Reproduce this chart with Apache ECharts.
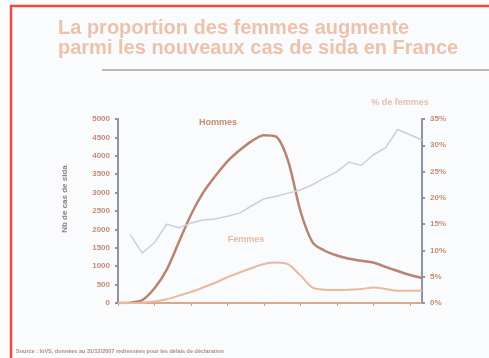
<!DOCTYPE html>
<html>
<head>
<meta charset="utf-8">
<script src="https://cdn.jsdelivr.net/npm/echarts@6/dist/echarts.min.js"></script>
<style>
html,body{margin:0;padding:0;background:#fafbfd;}
#main{width:489px;height:358px;filter:blur(0.6px);}
</style>
</head>
<body>
<div id="main"></div>
<script>
// annees 1982 -> 2007
var annees = ['1982','1983','1984','1985','1986','1987','1988','1989','1990','1991','1992','1993','1994',
    '1995','1996','1997','1998','1999','2000','2001','2002','2003','2004','2005','2006','2007'];
var hommes = [0,10,80,400,900,1650,2400,3000,3450,3850,4150,4400,4560,
    4520,3850,2500,1650,1420,1290,1200,1150,1100,980,870,760,680];
var femmes = [0,0,10,40,100,200,300,420,550,700,830,950,1060,
    1100,1050,750,420,360,350,360,380,420,380,330,330,340];
var pctFemmes = [null,13,9.5,11.5,15,14.3,15.2,15.8,16,16.5,17.1,18.5,19.8,
    20.3,20.9,21.5,22.5,23.8,25,26.8,26.2,28.2,29.5,33,32,31];

var chart = echarts.init(document.getElementById("main"));

var axeCouleur = "#8d93a0";
var labelCouleur = "#c58c70";

var option = {
    backgroundColor: "#fafbfd",
    animation: false,
    grid: {
        left: 118,
        right: 67,
        top: 119,
        bottom: 55
    },
    xAxis: {
        type: 'category',
        boundaryGap: false,
        data: annees,
        axisLine: {lineStyle: {color: "#d9a98e", width: 2}},
        axisTick: {show: true, length: 3, lineStyle: {color: "#c9a08a"}},
        axisLabel: {show: false},
        splitLine: {show: false}
    },
    yAxis: [
        {
            type: 'value',
            min: 0,
            max: 5000,
            interval: 500,
            axisLine: {show: true, lineStyle: {color: axeCouleur, width: 2}},
            axisTick: {show: true, length: 3, lineStyle: {color: axeCouleur, width: 2}},
            axisLabel: {
                color: labelCouleur,
                fontSize: 8,
                fontWeight: 'bold',
                fontFamily: 'Liberation Sans',
                margin: 8,
                formatter: function (v) { return String(v); }
            },
            splitLine: {show: false}
        },
        {
            type: 'value',
            min: 0,
            max: 35,
            interval: 5,
            position: 'right',
            axisLine: {show: true, lineStyle: {color: axeCouleur, width: 2}},
            axisTick: {show: true, length: 3, lineStyle: {color: axeCouleur, width: 2}},
            axisLabel: {
                color: labelCouleur,
                fontSize: 8,
                fontWeight: 'bold',
                fontFamily: 'Liberation Sans',
                margin: 8,
                formatter: '{value}%'
            },
            splitLine: {show: false}
        }
    ],
    series: [
        {
            name: 'Hommes',
            type: 'line',
            data: hommes,
            smooth: 0.3,
            symbol: 'none',
            lineStyle: {color: "#b98370", width: 2.5}
        },
        {
            name: 'Femmes',
            type: 'line',
            data: femmes,
            smooth: 0.3,
            symbol: 'none',
            lineStyle: {color: "#e9b9a0", width: 2}
        },
        {
            name: '% de femmes',
            type: 'line',
            yAxisIndex: 1,
            data: pctFemmes,
            symbol: 'none',
            lineStyle: {color: "#c6d0da", width: 1.5}
        }
    ],
    graphic: [
        {
            type: 'rect',
            shape: {x: 11, y: 6, width: 700, height: 700},
            style: {fill: 'none', stroke: '#ec4a3e', lineWidth: 2.5}
        },
        {
            type: 'text',
            left: 58,
            top: 18,
            style: {
                text: "La proportion des femmes augmente\nparmi les nouveaux cas de sida en France",
                fill: "#edc2ab",
                font: "bold 20px 'Liberation Sans'",
                lineHeight: 20
            }
        },
        {
            type: 'rect',
            shape: {x: 102, y: 69, width: 400, height: 2},
            style: {fill: '#bdb8b8'}
        },
        {
            type: 'text',
            x: 65,
            y: 199,
            rotation: Math.PI / 2,
            style: {
                text: "Nb de cas de sida",
                fill: "#8a7f80",
                font: "bold 8px 'Liberation Sans'",
                align: 'center',
                verticalAlign: 'middle'
            }
        },
        {
            type: 'text',
            x: 400,
            y: 103,
            style: {
                text: "% de femmes",
                fill: "#e3bfae",
                font: "bold 9px 'Liberation Sans'",
                align: 'center',
                verticalAlign: 'middle'
            }
        },
        {
            type: 'text',
            x: 218,
            y: 123,
            style: {
                text: "Hommes",
                fill: "#c28a72",
                font: "bold 9px 'Liberation Sans'",
                align: 'center',
                verticalAlign: 'middle'
            }
        },
        {
            type: 'text',
            x: 246,
            y: 240,
            style: {
                text: "Femmes",
                fill: "#e6b9a2",
                font: "bold 9px 'Liberation Sans'",
                align: 'center',
                verticalAlign: 'middle'
            }
        },
        {
            type: 'text',
            left: 16,
            top: 348,
            style: {
                text: "Source : InVS, données au 31/12/2007 redressées pour les délais de déclaration",
                fill: "#b08c7c",
                font: "bold 5.5px 'Liberation Sans'"
            }
        }
    ]
};
chart.setOption(option);
</script>
</body>
</html>
